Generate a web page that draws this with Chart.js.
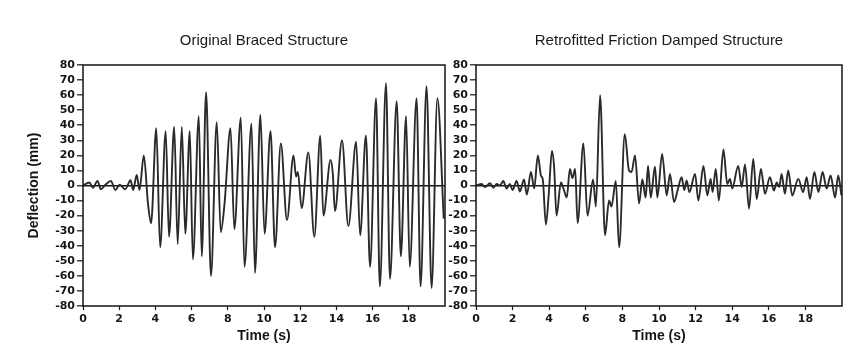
<!DOCTYPE html>
<html><head><meta charset="utf-8">
<script src="https://cdn.jsdelivr.net/npm/chart.js@4/dist/chart.umd.min.js"></script>
<style>
html,body{margin:0;padding:0;background:#fff;}
#wrap{position:relative;width:855px;height:356px;overflow:hidden;background:#fff}
.box{position:absolute;top:0;height:356px}
#b1{left:0;width:450px}
#b2{left:428px;width:427px}
</style></head><body>
<div id="wrap"><div class="box" id="b1"><canvas id="c1"></canvas></div><div class="box" id="b2"><canvas id="c2"></canvas></div></div>
<script>
const panelTitles = ['Original Braced Structure', 'Retrofitted Friction Damped Structure'];
const yAxisTitle = 'Deflection (mm)';
const xAxisTitle = 'Time (s)';
const xTickValues = [0, 2, 4, 6, 8, 10, 12, 14, 16, 18];

const leftTime = [0,0.35,0.55,0.8,0.99,1.24,1.54,1.79,2.03,2.33,2.63,2.77,2.97,3.12,3.36,3.59,3.76,4.05,4.26,4.57,4.75,5.04,5.23,5.46,5.65,5.9,6.07,6.4,6.56,6.8,7.07,7.39,7.61,7.82,8.15,8.36,8.72,8.92,9.31,9.5,9.8,10.03,10.36,10.61,10.93,11.27,11.63,11.77,11.87,12.08,12.45,12.78,13.11,13.28,13.68,13.8,13.92,14.31,14.66,15.09,15.31,15.63,15.86,16.19,16.4,16.74,16.96,17.33,17.56,17.85,18.05,18.43,18.65,18.98,19.26,19.58,19.93];
const leftDeflection = [0,2,-1.5,3,-2.5,0.5,3,-3,0.5,-2.5,3.5,-3,7,-3,20,-12,-25,38,-41,36,-34,39,-39,39,-32,36,-49,46,-47,62,-60,42,-31,-12,38,-29,45,-54,41,-58,47,-32,36,-41,28,-23,20,6,9,-15,22,-34,33,-20,17,8,-17,30,-27,29,-33,33,-54,58,-67,68,-62,56,-47,46,-54,58,-67,66,-68,58,-22];

const rightTime = [0,0.31,0.49,0.77,0.95,1.13,1.31,1.49,1.67,1.85,2.0,2.22,2.4,2.62,2.78,3.0,3.18,3.38,3.55,3.65,3.82,3.98,4.15,4.27,4.4,4.64,4.78,4.96,5.13,5.27,5.42,5.55,5.87,6.09,6.4,6.55,6.78,7.05,7.27,7.4,7.64,7.82,8.13,8.36,8.5,8.69,8.91,9.09,9.27,9.4,9.55,9.78,9.91,10.17,10.42,10.6,10.82,11.02,11.24,11.38,11.51,11.66,11.97,12.15,12.43,12.64,12.82,12.93,13.1,13.27,13.52,13.73,13.88,14.0,14.33,14.52,14.7,14.92,15.15,15.34,15.57,15.79,16.06,16.28,16.43,16.57,16.7,16.88,17.06,17.28,17.61,17.88,18.07,18.25,18.49,18.71,18.94,19.16,19.38,19.62,19.79,19.97];
const rightDeflection = [0,1,-1,1.5,-1.5,1,0,3,-2,1,-3,3,-4,4,-6,9,-2,20,6.5,4,-26,-5,23,12,-20,2,-2,-8,11,5,11,-25,28,-20,4,-14,60,-33,-10,-14,3,-41,34,10,9,20,-12,4,-8,13,-8,12.5,-8,21,-6.6,7.7,-11,-3,5.5,-3,3.3,-4.4,7.7,-10,13,-6.6,4.4,-4.4,11,-10,24,1,4.4,-2,13,-1,14,-15.4,17.6,-9,11,-5.5,5.5,-3.3,2,-1,7.7,-5.5,10,-6.6,4.4,-4.4,5.5,-9,9,-4.4,9,-2,6.6,-8,6.6,-6.6];

const INK = '#151515';
const tickFont = {family: "'DejaVu Sans', sans-serif", size: 11, weight: 'bold'};
const axisTitleFont = {family: "'Liberation Sans', Arial, sans-serif", size: 14, weight: 'bold'};
const panelTitleFont = {family: "'Liberation Sans', Arial, sans-serif", size: 15, weight: 'normal'};

const frame = {
  id: 'frame',
  afterDraw(chart) {
    const a = chart.chartArea, ctx = chart.ctx;
    ctx.save();
    ctx.strokeStyle = INK;
    ctx.lineWidth = 1.5;
    ctx.strokeRect(a.left, a.top, a.right - a.left, a.bottom - a.top);
    ctx.restore();
  }
};

function makeChart(canvasId, title, times, values, yWidth, rightPad, showYTitle) {
  return new Chart(document.getElementById(canvasId), {
    type: 'line',
    data: {
      datasets: [{
        data: times.map((t, i) => ({x: t, y: values[i]})),
        borderColor: '#2a2a2a',
        borderWidth: 1.9,
        pointRadius: 0,
        fill: false,
        cubicInterpolationMode: 'monotone'
      }]
    },
    options: {
      responsive: true,
      maintainAspectRatio: false,
      animation: false,
      devicePixelRatio: 1,
      layout: {padding: {left: 0, right: rightPad, top: 0, bottom: 0}},
      plugins: {legend: {display: false}, tooltip: {enabled: false}, title: {display: false}},
      scales: {
        x: {
          type: 'linear', position: 'bottom', min: 0, max: 20,
          afterBuildTicks: s => { s.ticks = xTickValues.map(v => ({value: v})); },
          afterFit: s => { s.height = 50; },
          ticks: {font: tickFont, color: INK, padding: 3, maxRotation: 0, autoSkip: false},
          grid: {display: true, drawOnChartArea: false, drawTicks: true, tickLength: 4, tickColor: INK, tickWidth: 1.2},
          border: {display: false},
          title: {display: true, text: xAxisTitle, font: axisTitleFont, color: INK, padding: {top: 0, bottom: 11}}
        },
        xTop: {
          type: 'linear', position: 'top', min: 0, max: 20,
          afterFit: s => { s.height = 65; },
          ticks: {display: false},
          grid: {display: false, drawTicks: false},
          border: {display: false},
          title: {display: true, text: title, font: panelTitleFont, color: '#1a1a1a', padding: {top: 32, bottom: 0}}
        },
        y: {
          min: -80, max: 80,
          afterFit: s => { s.width = yWidth; },
          ticks: {stepSize: 10, font: tickFont, color: INK, padding: 2, autoSkip: false},
          grid: {
            drawOnChartArea: true,
            color: c => (c.tick && c.tick.value === 0) ? INK : 'rgba(0,0,0,0)',
            lineWidth: 1.6,
            tickColor: INK, tickLength: 6, tickWidth: 1.2
          },
          border: {display: false},
          title: {display: showYTitle, text: yAxisTitle, font: axisTitleFont, color: INK, padding: {top: 26, bottom: 0}}
        }
      }
    },
    plugins: [frame]
  });
}

makeChart('c1', panelTitles[0], leftTime, leftDeflection, 83, 5, true);
makeChart('c2', panelTitles[1], rightTime, rightDeflection, 48, 13, false);
</script>
</body></html>
